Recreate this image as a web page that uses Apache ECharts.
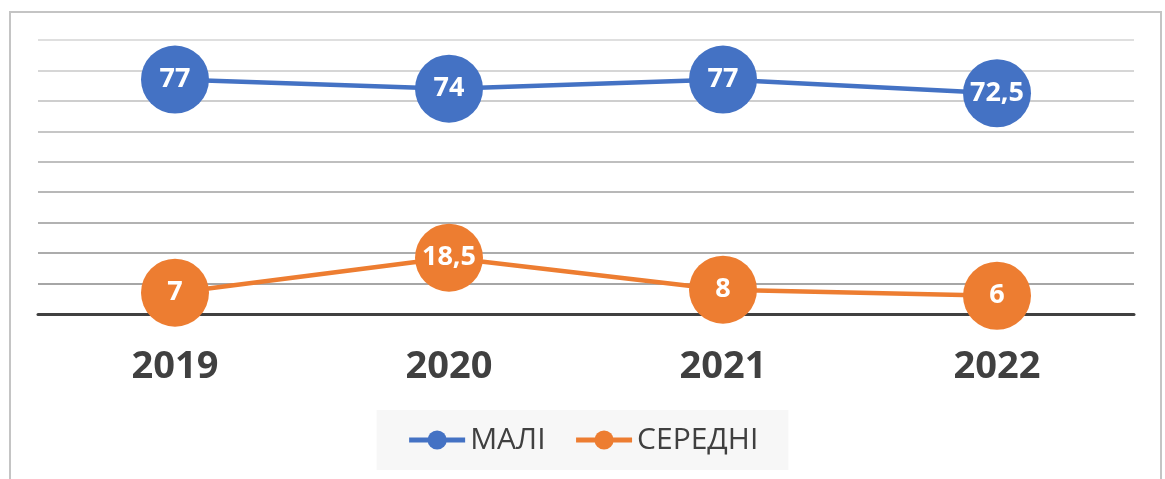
<!DOCTYPE html>
<html>
<head>
<meta charset="utf-8">
<script src="https://cdn.jsdelivr.net/npm/echarts@6/dist/echarts.min.js"></script>
<style>
html,body{margin:0;padding:0;background:#fff;}
#chart{width:1165px;height:479px;}
</style>
</head>
<body>
<div id="chart"></div>
<script>
const categories = ['2019', '2020', '2021', '2022'];
const maliValues = [77, 74, 77, 72.5];
const seredniValues = [7, 18.5, 8, 6];
const seriesNames = ['МАЛІ', 'СЕРЕДНІ'];

const chart = echarts.init(document.getElementById('chart'));
const fmt = p => String(p.value).replace('.', ',');
const labelStyle = {
  show: true, position: 'inside', color: '#fff', fontSize: 27, fontWeight: 'bold',
  fontFamily: 'Open Sans', formatter: fmt
};
chart.setOption({
  animation: false,
  backgroundColor: '#fff',
  graphic: [{
    type: 'rect', z: -1,
    shape: { x: 10, y: 12, width: 1151, height: 480 },
    style: { fill: 'none', stroke: '#c4c4c4', lineWidth: 2 }
  }],
  grid: { left: 38, right: 31, top: 40, bottom: 165 },
  legend: {
    data: seriesNames,
    left: 'center', top: 410,
    padding: [15, 30, 15, 30],
    backgroundColor: '#f7f7f7',
    itemWidth: 56, itemHeight: 24, itemGap: 28,
    lineStyle: { width: 5 },
    textStyle: { fontSize: 30, color: '#404040', fontFamily: 'Open Sans' }
  },
  xAxis: {
    type: 'category', data: categories, boundaryGap: true,
    axisLine: { lineStyle: { color: '#404040', width: 3 } },
    axisTick: { show: false },
    axisLabel: { fontSize: 38, fontWeight: 'bold', color: '#404040', fontFamily: 'Open Sans', margin: 34 }
  },
  yAxis: {
    type: 'value', min: 0, max: 90, interval: 10,
    axisLabel: { show: false }, axisLine: { show: false }, axisTick: { show: false },
    splitLine: { lineStyle: { width: 2, color: ['#a0a0a0','#a6a6a6','#acacac','#b2b2b2','#b8b8b8','#bfbfbf','#c6c6c6','#cecece','#d6d6d6','#dfdfdf'] } }
  },
  series: [
    {
      name: seriesNames[0], type: 'line', data: maliValues,
      symbol: 'circle', symbolSize: 68,
      itemStyle: { color: '#4472C4' },
      lineStyle: { color: '#4472C4', width: 4.5 },
      label: labelStyle
    },
    {
      name: seriesNames[1], type: 'line', data: seredniValues,
      symbol: 'circle', symbolSize: 68,
      itemStyle: { color: '#ED7D31' },
      lineStyle: { color: '#ED7D31', width: 4.5 },
      label: labelStyle
    }
  ]
});
</script>
</body>
</html>
